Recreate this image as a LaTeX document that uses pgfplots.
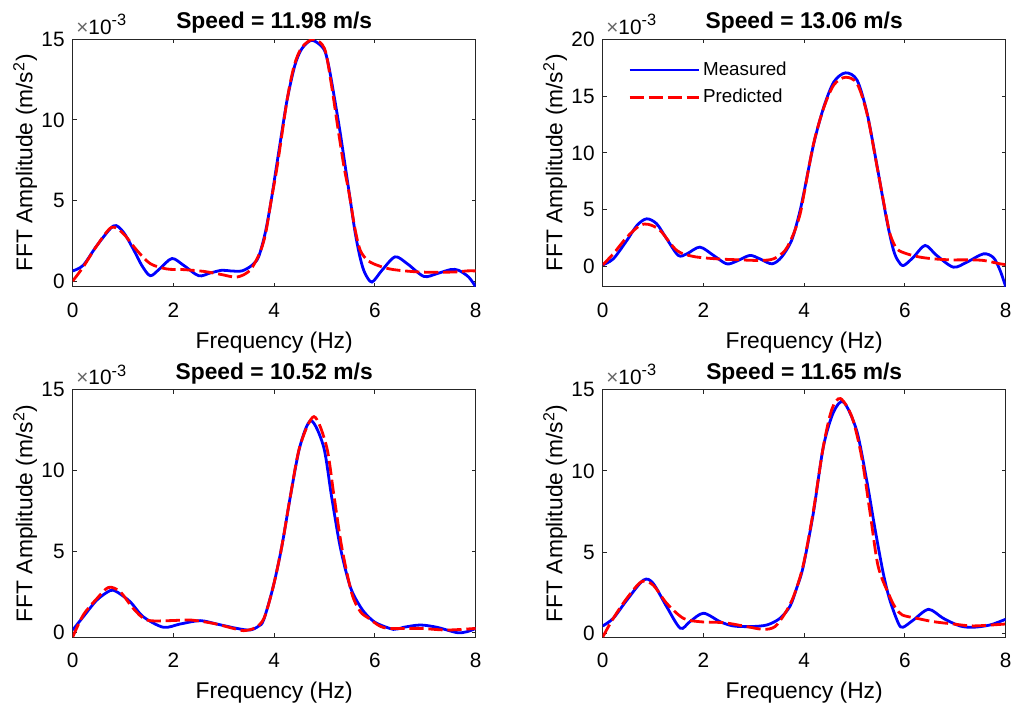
\documentclass[border=0pt]{standalone}
\usepackage{fontspec}
\setmainfont{Liberation Sans}
\usepackage{pgfplots}
\pgfplotsset{compat=1.18}

\definecolor{mblue}{RGB}{0,0,255}
\definecolor{mred}{RGB}{255,0,0}

\pgfplotsset{
  fftpanel/.style={
    scale only axis, width=201.5pt, height=123.7pt,
    anchor=south west,
    xmin=0, xmax=8, xtick={0,2,4,6,8},
    tick align=inside, major tick length=2pt,
    axis line style={line width=0.5pt, black!85},
    tick style={line width=0.5pt, black!85},
    /pgf/number format/assume math mode=true,
    ticklabel style={font=\fontsize{10.4}{12}\selectfont},
    xticklabel style={inner sep=0pt, yshift=-7.9pt},
    yticklabel style={inner sep=0pt, xshift=-3.85pt},
    xlabel={Frequency (Hz)},
    ylabel={FFT Amplitude (m/s\textsuperscript{2})},
    label style={font=\fontsize{11.4}{13}\selectfont},
    xlabel style={at={([yshift=-27.8pt]axis description cs:0.5,0)}, anchor=center},
    ylabel style={at={([xshift=-23.8pt]axis description cs:0,0.5)}, anchor=center},
    every axis title/.style={font=\bfseries\fontsize{11.4}{13}\selectfont,
      at={([yshift=8.2pt]axis description cs:0.5,1)}, anchor=center},
    % x10^-3 multiplier above the y axis, drawn outside the clip
    extra description/.code={
      \node[anchor=base west, inner sep=0pt, font=\fontsize{10.4}{12}\selectfont]
        at ([xshift=1.6pt,yshift=2.5pt]axis description cs:0,1)
        {\textcolor{black!60}{×}10\raisebox{4.3pt}{\fontsize{8.2}{9}\selectfont -3}};
    },
    meas/.style={mblue, line width=1.4pt, smooth},
    pred/.style={mred, line width=1.4pt, dash pattern=on 7.1pt off 2.4pt, smooth},
  },
}

\begin{document}
\begin{tikzpicture}
\path[use as bounding box] (0,0) rectangle (505.5pt,353.5pt);

% Speed = 11.98 m/s
\begin{axis}[fftpanel, at={(36.35pt,210.15pt)}, ymin=-0.35, ymax=15, ytick={0,5,10,15},
  title={Speed = 11.98 m/s}]
\addplot[meas] coordinates {
(0,0.63) (0.21,0.98) (0.48,2.2) (0.81,3.42) (1.0,3.06) (1.2,2.0) (1.37,0.98) (1.54,0.33)
(1.73,0.77) (1.97,1.4) (2.2,0.98) (2.5,0.33) (2.73,0.5) (2.96,0.67) (3.13,0.63) (3.36,0.63)
(3.56,0.98) (3.69,1.5) (3.82,2.96) (3.93,4.8) (4.04,7.0) (4.15,9.2) (4.26,11.3) (4.41,13.38)
(4.55,14.42) (4.75,14.94) (4.98,14.42) (5.08,13.38) (5.2,11.29) (5.31,9.21) (5.41,7.13)
(5.51,5.04) (5.61,2.96) (5.71,1.4) (5.8,0.5) (5.94,-0.06) (6.14,0.67) (6.4,1.5) (6.64,1.08)
(6.97,0.29) (7.23,0.46) (7.5,0.71) (7.66,0.67) (7.86,0.25) (8,-0.35)};
\addplot[pred] coordinates {
(0,0) (0.21,0.88) (0.48,2.2) (0.77,3.33) (1.0,2.96) (1.27,1.92) (1.54,1.08) (1.87,0.75)
(2.2,0.71) (2.6,0.6) (2.93,0.42) (3.26,0.25) (3.52,0.67) (3.72,1.8) (3.83,2.96) (3.94,5.0)
(4.06,7.13) (4.26,11.3) (4.4,13.4) (4.55,14.5) (4.78,15.0) (5.0,14.42) (5.13,12.3) (5.26,9.6)
(5.38,7.2) (5.49,5.4) (5.6,3.3) (5.71,1.9) (5.87,1.25) (6.1,0.92) (6.37,0.71) (6.9,0.56)
(7.56,0.56) (7.83,0.63) (8,0.63)};
\end{axis}

% Speed = 13.06 m/s
\begin{axis}[fftpanel, at={(301.35pt,210.15pt)}, ymin=-1.76, ymax=20, ytick={0,5,10,15,20},
  title={Speed = 13.06 m/s},
  legend style={draw=none, fill=none, at={(rel axis cs:0,1)}, anchor=north west,
    xshift=12.5pt, yshift=-9pt, inner sep=0pt, row sep=1.5pt, column sep=-0.4pt,
    font=\fontsize{9.4}{11}\selectfont},
  legend cell align=left,
  legend image code/.code={\draw[#1] (0pt,0pt) -- (34.5pt,0pt);}]
\addplot[meas] coordinates {
(0,0.16) (0.21,0.69) (0.48,2.31) (0.68,3.63) (0.87,4.21) (1.07,3.78) (1.27,2.45) (1.5,0.99)
(1.67,1.13) (1.93,1.72) (2.2,0.99) (2.46,0.25) (2.66,0.49) (2.92,0.99) (3.12,0.69) (3.36,0.25)
(3.55,0.84) (3.75,2.31) (3.9,4.6) (3.99,6.42) (4.19,10.83) (4.39,14.06) (4.59,16.26) (4.82,17.05)
(5.05,16.4) (5.25,13.47) (5.45,8.77) (5.64,4.07) (5.77,1.5) (5.86,0.55) (5.97,0.1) (6.17,0.84)
(6.4,1.87) (6.63,0.99) (6.96,-0.04) (7.23,0.4) (7.56,1.13) (7.76,0.78) (7.89,-0.34) (8,-1.76)};
\addlegendentry{Measured}
\addplot[pred] coordinates {
(0,0.16) (0.21,1.13) (0.48,2.6) (0.74,3.63) (0.91,3.72) (1.14,3.19) (1.47,1.43) (1.8,0.9)
(2.26,0.69) (2.73,0.6) (3.12,0.55) (3.39,0.69) (3.62,1.43) (3.79,2.9) (3.92,4.65) (4.0,6.5)
(4.19,10.9) (4.39,14.0) (4.59,16.0) (4.82,16.66) (5.05,16.1) (5.25,13.4) (5.45,8.7) (5.64,4.2)
(5.71,2.78) (5.84,1.57) (6.04,1.13) (6.3,0.84) (6.57,0.69) (6.9,0.6) (7.23,0.6) (7.56,0.55)
(7.89,0.25) (8,0.19)};
\addlegendentry{Predicted}
\end{axis}

% Speed = 10.52 m/s
\begin{axis}[fftpanel, at={(36.35pt,35pt)}, ymin=-0.27, ymax=15, ytick={0,5,10,15},
  title={Speed = 10.52 m/s}]
\addplot[meas] coordinates {
(0,0.16) (0.21,0.98) (0.48,2.01) (0.74,2.59) (0.87,2.53) (1.14,1.91) (1.4,0.98) (1.8,0.33)
(2.13,0.53) (2.53,0.74) (2.86,0.53) (3.26,0.26) (3.52,0.16) (3.69,0.4) (3.79,0.78) (3.98,2.83)
(4.15,5.3) (4.32,8.39) (4.51,11.48) (4.73,13.08) (4.98,11.48) (5.14,8.39) (5.31,5.3)
(5.51,2.83) (5.71,1.6) (5.87,0.98) (6.04,0.57) (6.37,0.2) (6.57,0.33) (6.9,0.47) (7.23,0.33)
(7.63,0) (7.83,0.06) (8,0.26)};
\addplot[pred] coordinates {
(0,-0.27) (0.21,1.09) (0.48,2.1) (0.71,2.79) (0.94,2.53) (1.2,1.5) (1.47,0.78) (1.93,0.74)
(2.33,0.78) (2.79,0.57) (3.19,0.26) (3.39,0.12) (3.62,0.3) (3.8,0.9) (3.98,2.83) (4.15,5.3)
(4.32,8.4) (4.51,11.5) (4.79,13.33) (5.04,11.48) (5.18,8.6) (5.34,5.3) (5.54,2.43) (5.71,1.3)
(5.87,0.9) (6.1,0.4) (6.3,0.26) (6.9,0.26) (7.43,0.16) (8,0.26)};
\end{axis}

% Speed = 11.65 m/s
\begin{axis}[fftpanel, at={(301.35pt,35pt)}, ymin=-0.2, ymax=15, ytick={0,5,10,15},
  title={Speed = 11.65 m/s}]
\addplot[meas] coordinates {
(0,0.48) (0.21,0.95) (0.48,2.07) (0.81,3.3) (1.0,3.1) (1.27,1.66) (1.54,0.34) (1.73,0.74)
(2.0,1.26) (2.33,0.74) (2.59,0.48) (2.93,0.44) (3.26,0.54) (3.52,0.95) (3.72,1.7) (3.85,2.8)
(3.98,4.12) (4.18,7.39) (4.38,11.48) (4.58,13.6) (4.78,14.24) (5.04,12.5) (5.24,9.44)
(5.41,6.37) (5.57,3.71) (5.7,2.07) (5.87,0.64) (5.96,0.4) (6.17,0.85) (6.47,1.5) (6.76,0.95)
(7.09,0.48) (7.36,0.4) (7.69,0.54) (8,0.89)};
\addplot[pred] coordinates {
(0,-0.2) (0.21,0.95) (0.48,2.18) (0.77,3.2) (1.0,2.99) (1.27,1.87) (1.6,0.95) (1.93,0.74)
(2.4,0.68) (2.79,0.48) (3.19,0.27) (3.42,0.44) (3.62,1.26) (3.79,2.3) (3.98,4.2) (4.18,7.5)
(4.38,11.5) (4.55,13.8) (4.72,14.45) (4.95,13.3) (5.14,10.87) (5.31,7.39) (5.47,4.12)
(5.7,2.28) (5.82,1.56) (5.95,1.15) (6.23,0.95) (6.57,0.74) (6.96,0.6) (7.36,0.48) (8,0.6)};
\end{axis}

\end{tikzpicture}
\end{document}
